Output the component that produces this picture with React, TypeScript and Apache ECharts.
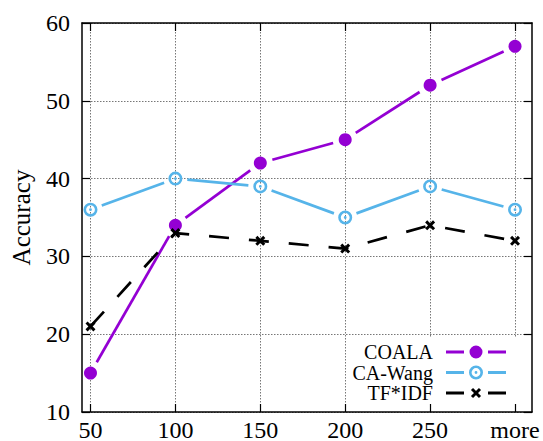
import React, { useEffect, useRef } from 'react';
import * as echarts from 'echarts';

const X_VALUES = [50, 100, 150, 200, 250, 300];
const X_LABELS = ['50', '100', '150', '200', '250', 'more'];
const SERIES_NAMES = ['COALA', 'CA-Wang', 'TF*IDF'];
const COALA = [15, 34, 42, 45, 52, 57];
const CA_WANG = [36, 40, 39, 35, 39, 36];
const TF_IDF = [21, 33, 32, 31, 34, 32];

const PURPLE = '#9400D3';
const SKY = '#56B4E9';
const BLACK = '#000000';
const FONT = '"Liberation Serif", "Times New Roman", serif';

const f = (v: number) => Math.round(v * 100) / 100;

const circlePath = (cx: number, cy: number, r: number, cw: boolean) => {
  const s = cw ? 1 : 0;
  return `M${f(cx)},${f(cy - r)} A${r},${r} 0 1 ${s} ${f(cx)},${f(cy + r)} A${r},${r} 0 1 ${s} ${f(cx)},${f(cy - r)} Z`;
};
const ringPath = (cx: number, cy: number) =>
  circlePath(cx, cy, 7, true) + ' ' + circlePath(cx, cy, 4.4, false) + ' ' + circlePath(cx, cy, 1.4, true);
const crossPath = (cx: number, cy: number) => {
  const a = 4;
  const n = 1.5 / Math.SQRT2;
  const b1 = [
    [cx - a + n, cy - a - n],
    [cx + a + n, cy + a - n],
    [cx + a - n, cy + a + n],
    [cx - a - n, cy - a + n],
  ];
  const b2 = [
    [cx - a - n, cy + a - n],
    [cx + a - n, cy - a - n],
    [cx + a + n, cy - a + n],
    [cx - a + n, cy + a + n],
  ];
  const poly = (pts: number[][]) => 'M' + pts.map((p) => `${f(p[0])},${f(p[1])}`).join(' L') + ' Z';
  return poly(b1) + ' ' + poly(b2);
};

// legend icon: 68 x 14 box, visible part from x=8
const ANCHORS = 'M0,0 L0.01,0 L0,0.01 Z M68,14 L67.99,14 L68,13.99 Z';
const SEGS = 'M8,5.5 L26,5.5 L26,8.5 L8,8.5 Z M50,5.5 L68,5.5 L68,8.5 L50,8.5 Z';
const LEGEND_ICONS = [
  'path://' + ANCHORS + ' ' + SEGS + ' ' + circlePath(38, 7, 6.5, true),
  'path://' + ANCHORS + ' ' + SEGS + ' ' + ringPath(38, 7),
  'path://' + ANCHORS + ' ' + SEGS + ' ' + crossPath(38, 7),
];

const MARKER_RING = 'path://' + ringPath(7, 7);
const MARKER_CROSS = 'path://' + crossPath(5.06, 5.06);

function gapLineSeries(name: string, values: number[], color: string, gap: number) {
  return {
    type: 'custom',
    name,
    silent: true,
    z: 2,
    data: values.slice(0, -1).map((v, i) => [X_VALUES[i], v, X_VALUES[i + 1], values[i + 1]]),
    encode: { x: [0, 2], y: [1, 3] },
    renderItem: (_params: any, api: any) => {
      const a = api.coord([api.value(0), api.value(1)]);
      const b = api.coord([api.value(2), api.value(3)]);
      const dx = b[0] - a[0];
      const dy = b[1] - a[1];
      const len = Math.hypot(dx, dy) || 1;
      const ux = dx / len;
      const uy = dy / len;
      return {
        type: 'line',
        shape: {
          x1: a[0] + ux * gap,
          y1: a[1] + uy * gap,
          x2: b[0] - ux * gap,
          y2: b[1] - uy * gap,
        },
        style: { stroke: color, lineWidth: 2.7, fill: null },
      };
    },
  };
}

export default function App() {
  const ref = useRef<HTMLDivElement>(null);
  useEffect(() => {
    if (!ref.current) return;
    const chart = echarts.init(ref.current, null, { renderer: 'svg' });
    const splitStyle = { show: true, lineStyle: { color: '#777', width: 1, type: [1.5, 1.5] } };
    const frameLine = { show: true, lineStyle: { color: '#000', width: 1.5 } };
    const tick = (custom: boolean) => ({
      show: true,
      inside: true,
      length: 8,
      lineStyle: { color: '#000', width: 1.2 },
      ...(custom ? { customValues: X_VALUES } : {}),
    });
    const option: any = {
      animation: false,
      grid: { left: 82, right: 11, top: 23, bottom: 29, containLabel: false, outerBoundsMode: 'none' },
      legend: {
        data: SERIES_NAMES.map((n, i) => ({ name: n, icon: LEGEND_ICONS[i] })),
        orient: 'vertical',
        align: 'right',
        right: 17,
        top: 338,
        itemWidth: 68,
        itemHeight: 14,
        itemGap: 0.5,
        padding: [4, 20, 9, 6],
        backgroundColor: '#fff',
        selectedMode: false,
        z: 4,
        textStyle: { fontFamily: FONT, fontSize: 20, color: '#000', lineHeight: 20 },
        itemStyle: { borderWidth: 0 },
      },
      xAxis: [
        {
          type: 'value',
          position: 'bottom',
          min: 45,
          max: 310,
          z: 5,
          axisLine: frameLine,
          axisTick: tick(true),
          axisLabel: {
            customValues: X_VALUES,
            formatter: (v: number) => {
              const i = X_VALUES.indexOf(v);
              return i >= 0 ? X_LABELS[i] : '';
            },
            fontFamily: FONT,
            fontSize: 24,
            lineHeight: 17,
            color: '#000',
            margin: 9,
          },
          splitLine: { show: false },
        },
        {
          type: 'value',
          position: 'top',
          min: 45,
          max: 310,
          z: 0,
          axisLine: frameLine,
          axisTick: tick(true),
          axisLabel: { show: false },
          splitLine: splitStyle,
        },
      ],
      yAxis: [
        {
          type: 'value',
          position: 'left',
          min: 10,
          max: 60,
          interval: 10,
          z: 0,
          name: 'Accuracy',
          nameLocation: 'middle',
          nameGap: 48,
          nameTextStyle: { fontFamily: FONT, fontSize: 25, color: '#000' },
          axisLine: frameLine,
          axisTick: tick(false),
          axisLabel: { fontFamily: FONT, fontSize: 24, color: '#000', margin: 12 },
          splitLine: splitStyle,
        },
        {
          type: 'value',
          position: 'right',
          min: 10,
          max: 60,
          interval: 10,
          z: 5,
          axisLine: frameLine,
          axisTick: tick(false),
          axisLabel: { show: false },
          splitLine: { show: false },
        },
      ],
      series: [
        gapLineSeries('COALA line', COALA, PURPLE, 12.5),
        gapLineSeries('CA-Wang line', CA_WANG, SKY, 12),
        {
          type: 'line',
          name: 'TF*IDF line',
          silent: true,
          z: 2,
          data: X_VALUES.map((x, i) => [x, TF_IDF[i]]),
          symbol: 'none',
          itemStyle: { color: BLACK },
          lineStyle: { color: BLACK, width: 2.7, type: [20, 20] },
        },
        {
          type: 'scatter',
          name: 'COALA',
          z: 3,
          data: X_VALUES.map((x, i) => [x, COALA[i]]),
          symbol: 'circle',
          symbolSize: 13,
          itemStyle: { color: PURPLE, opacity: 1 },
        },
        {
          type: 'scatter',
          name: 'CA-Wang',
          z: 3,
          data: X_VALUES.map((x, i) => [x, CA_WANG[i]]),
          symbol: MARKER_RING,
          symbolSize: 14,
          symbolKeepAspect: true,
          itemStyle: { color: SKY, opacity: 1 },
        },
        {
          type: 'scatter',
          name: 'TF*IDF',
          z: 3,
          data: X_VALUES.map((x, i) => [x, TF_IDF[i]]),
          symbol: MARKER_CROSS,
          symbolSize: 10,
          symbolKeepAspect: true,
          itemStyle: { color: BLACK, opacity: 1 },
        },
      ],
    };
    chart.setOption(option);
    return () => chart.dispose();
  }, []);
  return (
    <div
      ref={ref}
      style={{ position: 'fixed', left: 0, top: 0, width: 543, height: 441, background: '#fff' }}
    />
  );
}
